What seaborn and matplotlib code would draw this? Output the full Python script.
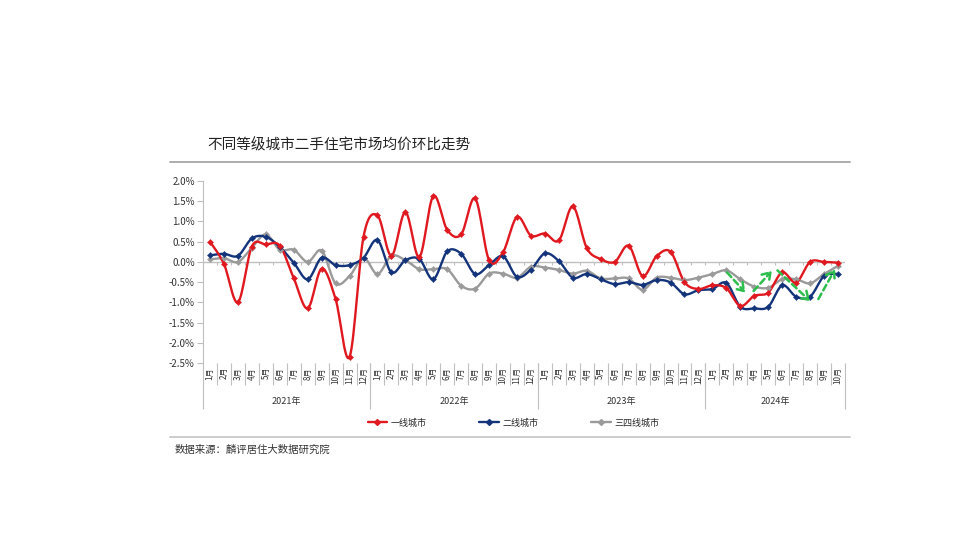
import numpy as np
import matplotlib
matplotlib.use("Agg")
import matplotlib.pyplot as plt
from matplotlib.lines import Line2D
import seaborn as sns

# month-on-month change of second-hand home prices, %, Jan 2021 - Oct 2024
years = ["2021年", "2022年", "2023年", "2024年"]
months_per_year = [12, 12, 12, 10]
month_labels = [f"{m}月" for n in months_per_year for m in range(1, n + 1)]

tier1 = [0.50, -0.05, -1.00, 0.38, 0.43, 0.40, -0.40, -1.15, -0.17, -0.92, -2.35, 0.62,
         1.15, 0.15, 1.23, 0.12, 1.63, 0.79, 0.68, 1.57, 0.04, 0.24, 1.11, 0.65,
         0.70, 0.53, 1.37, 0.34, 0.07, 0.00, 0.40, -0.35, 0.14, 0.25, -0.50, -0.67,
         -0.58, -0.65, -1.09, -0.84, -0.76, -0.26, -0.51, 0.00, 0.00, -0.02]
tier2 = [0.16, 0.20, 0.15, 0.58, 0.62, 0.37, -0.02, -0.43, 0.10, -0.08, -0.08, 0.10,
         0.54, -0.26, 0.04, 0.07, -0.43, 0.26, 0.20, -0.30, -0.08, 0.14, -0.37, -0.19,
         0.21, 0.02, -0.39, -0.30, -0.43, -0.55, -0.50, -0.57, -0.45, -0.51, -0.80, -0.70,
         -0.67, -0.52, -1.11, -1.15, -1.11, -0.58, -0.86, -0.86, -0.35, -0.30]
tier34 = [0.06, 0.09, 0.00, 0.35, 0.68, 0.30, 0.30, 0.00, 0.28, -0.53, -0.35, 0.10,
          -0.30, 0.15, 0.04, -0.18, -0.18, -0.18, -0.59, -0.66, -0.29, -0.29, -0.39, -0.12,
          -0.14, -0.20, -0.29, -0.22, -0.41, -0.41, -0.41, -0.69, -0.39, -0.39, -0.45, -0.39,
          -0.30, -0.21, -0.43, -0.61, -0.64, -0.43, -0.43, -0.53, -0.30, -0.10]
series_names = ["一线城市", "二线城市", "三四线城市"]
series_colors = ["#E0181F", "#13337A", "#9A9A9A"]

# green trend arrows (start, end) in (month index, %)
arrow_starts = [(37.05, -0.26), (38.95, -0.72), (40.66, -0.21), (43.59, -0.92)]
arrow_ends = [(38.36, -0.76), (40.26, -0.22), (43.0, -0.97), (44.79, -0.18)]


def smooth(xs, ys, k=2.9, n=16):
    # Catmull-Rom curve, similar to Excel "smoothed line"
    p = np.column_stack([xs, np.asarray(ys) * k])
    p = np.vstack([p[0], p, p[-1]])
    out = []
    t = np.linspace(0, 1, n)[:, None]
    for i in range(1, len(p) - 2):
        p0, p1, p2, p3 = p[i - 1], p[i], p[i + 1], p[i + 2]
        seg = 0.5 * (2 * p1 + (-p0 + p2) * t + (2 * p0 - 5 * p1 + 4 * p2 - p3) * t ** 2
                     + (-p0 + 3 * p1 - 3 * p2 + p3) * t ** 3)
        out.append(seg if i == 1 else seg[1:])
    out = np.vstack(out)
    return out[:, 0], out[:, 1] / k


sns.set_theme(style="white")
plt.rcParams["font.family"] = ["Noto Sans CJK SC", "DejaVu Sans"]
plt.rcParams["axes.unicode_minus"] = False

fig = plt.figure(figsize=(9.6, 5.57), dpi=100)
ax = fig.add_axes([203 / 960, 1 - 363 / 557, 642 / 960, 182 / 557])

x = np.arange(len(month_labels))
gridc = "#BFBFBF"
ax.axhline(0, color=gridc, lw=1, zorder=1)
ax.vlines(np.arange(-0.5, len(x), 1), -0.07, 0, color=gridc, lw=0.8, zorder=1)

for vals, name, col in zip([tier34, tier2, tier1], series_names[::-1], series_colors[::-1]):
    sx, sy = smooth(x, vals)
    sns.lineplot(x=sx, y=sy, sort=False, estimator=None, color=col, lw=1.7, ax=ax, zorder=3)
    sns.scatterplot(x=x, y=vals, marker="D", s=10, color=col, edgecolor=col, ax=ax, zorder=4)

for s, e in zip(arrow_starts, arrow_ends):
    ax.annotate("", xy=e, xytext=s,
                arrowprops=dict(arrowstyle="->,head_length=0.45,head_width=0.3",
                                color="#2DBE4E", lw=1.8, linestyle=(0, (2.5, 1.5)),
                                shrinkA=0, shrinkB=0), zorder=5)

ax.set_xlim(-0.5, len(x) - 0.5)
ax.set_ylim(-2.5, 2.0)
yt = np.arange(-2.5, 2.01, 0.5)
ax.set_yticks(yt)
ax.set_yticklabels([f"{v:.1f}%" for v in yt], fontsize=7, color="#333333")
ax.set_xticks([])
ax.tick_params(axis="y", left=True, length=4, width=0.8, color=gridc, pad=2)
for side in ["top", "right", "bottom"]:
    ax.spines[side].set_visible(False)
ax.spines["left"].set_color(gridc)
ax.spines["left"].set_linewidth(0.8)

# multi-level category axis below the plot
ax_tr = ax.get_xaxis_transform()
ax.vlines(np.arange(0.5, len(x) - 1, 1), -0.121, 0, transform=ax_tr, color=gridc,
          lw=0.8, clip_on=False)
bounds = np.concatenate([[0], np.cumsum(months_per_year)]) - 0.5
ax.vlines(bounds, -0.253, 0, transform=ax_tr, color=gridc, lw=0.8, clip_on=False)
for i, lab in enumerate(month_labels):
    ax.text(i, -0.022, lab, transform=ax_tr, rotation=90, ha="center", va="top",
            fontsize=5.8, color="#333333")
for j, yr in enumerate(years):
    ax.text((bounds[j] + bounds[j + 1]) / 2, -0.214, yr, transform=ax_tr,
            ha="center", va="center", fontsize=6.5, color="#333333")

handles = [Line2D([], [], color=c, lw=1.7, marker="D", markersize=3) for c in series_colors]
fig.legend(handles, series_names, loc="center", bbox_to_anchor=(0.535, 1 - 423 / 557),
           ncol=3, frameon=False, fontsize=6.5, handlelength=2.2, columnspacing=5.8,
           handletextpad=0.4)

fig.text(207 / 960, 1 - 145 / 557, "不同等级城市二手住宅市场均价环比走势", fontsize=10.5,
         ha="left", va="center", color="#222222")
fig.add_artist(Line2D([170 / 960, 850 / 960], [1 - 162 / 557] * 2, color="#A6A6A6", lw=1.3))
fig.add_artist(Line2D([170 / 960, 850 / 960], [1 - 437 / 557] * 2, color="#C8C8C8", lw=1.3))
fig.text(175 / 960, 1 - 450 / 557, "数据来源：麟评居住大数据研究院", fontsize=7.5,
         ha="left", va="center", color="#333333")

fig.savefig("out.png", dpi=100)
